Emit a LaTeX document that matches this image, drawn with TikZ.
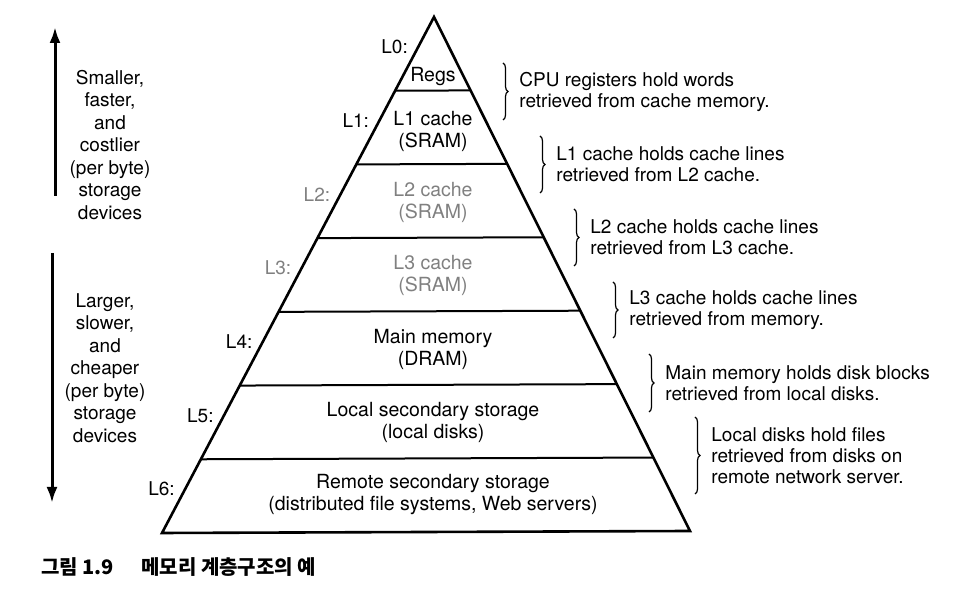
\documentclass[tikz,border=0pt]{standalone}
\usepackage{fontspec}
\setmainfont{TeX Gyre Heros}
\newfontfamily\krfont{Noto Sans CJK KR}
\usetikzlibrary{calc,decorations.pathreplacing,arrows.meta}

\begin{document}
\begin{tikzpicture}[x=0.5pt,y=-0.5pt,font=\fontsize{9.5}{11}\selectfont]
    \tikzstyle{pyramid}=[draw=black,line width=1.3pt,line join=miter]
    \tikzstyle{split}=[draw=black,line width=1pt]
    \tikzstyle{tag}=[anchor=east,inner sep=0pt,xshift=-5pt]
    \tikzstyle{tier}=[align=center,inner sep=0pt,font=\fontsize{9.75}{11}\selectfont]
    \tikzstyle{curly}=[draw=black,line width=0.6pt,decorate,decoration={brace,amplitude=2.5pt}]
    \tikzstyle{note}=[anchor=west,align=left,inner sep=0pt,font=\fontsize{9.5}{10.5}\selectfont]
    \tikzstyle{side}=[align=center,inner sep=0pt,font=\fontsize{9.5}{11.25}\selectfont]
    \tikzstyle{trend}=[line width=1.5pt,-{Latex[length=8pt,width=5.5pt]}]
    \tikzstyle{caption}=[anchor=west,inner sep=0pt,font=\krfont\bfseries\fontsize{10}{12}\selectfont]

    \useasboundingbox (0,0) rectangle (960,597);

    % Draw the pyramid outline
    \coordinate (apex) at (434,17);
    \coordinate (bl) at (162,533);
    \coordinate (br) at (690,531);
    \draw[pyramid] (apex) -- (bl) -- (br) -- cycle;

    % Split the pyramid into its seven levels
    \foreach \k in {1,...,6} {
        \coordinate (l-\k) at ($(apex)!\k/7!(bl)$);
        \coordinate (r-\k) at ($(apex)!\k/7!(br)$);
        \draw[split] (l-\k) -- (r-\k);
    }

    % Level names on the left edge
    \foreach \k/\tc in {0/black,1/black,2/black!50,3/black!50,4/black,5/black,6/black}
        \node[tag,text=\tc] (tag-\k) at ($(apex)!\k/7+0.058!(bl)$) {L\k:};

    % What each level holds
    \foreach \k/\y/\tc/\txt in {0/77/black/Regs,
                                1/131/black/{L1 cache\\(SRAM)},
                                2/202/black!50/{L2 cache\\(SRAM)},
                                3/275/black!50/{L3 cache\\(SRAM)},
                                4/349/black/{Main memory\\(DRAM)},
                                5/422/black/{Local secondary storage\\(local disks)},
                                6/495/black/{Remote secondary storage\\(distributed file systems, Web servers)}}
        \node[tier,text=\tc] (tier-\k) at (433,\y) {\txt};

    % Braces and notes on the right
    \foreach \k/\bx/\ya/\yb/\txt in {
        1/503/63/120/{CPU registers hold words\\retrieved from cache memory.},
        2/540/136/193/{L1 cache holds cache lines\\retrieved from L2 cache.},
        3/574/209/266/{L2 cache holds cache lines\\retrieved from L3 cache.},
        4/613/282/338/{L3 cache holds cache lines\\retrieved from memory.},
        5/649/354/412/{Main memory holds disk blocks\\retrieved from local disks.},
        6/695/417/494/{Local disks hold files\\retrieved from disks on\\remote network server.}}
    {
        \coordinate (top-\k) at (\bx,\ya);
        \coordinate (bot-\k) at (\bx,\yb);
        \draw[curly] (top-\k) -- (bot-\k);
        \node[note] (note-\k) at ($(top-\k)!0.5!(bot-\k)+(16,0)$) {\txt};
    }

    % Trend arrows on the left
    \coordinate (up-a) at (55,196);
    \coordinate (up-b) at (55,27);
    \draw[trend] (up-a) -- (up-b);
    \coordinate (dn-a) at (52,253);
    \coordinate (dn-b) at (52,503);
    \draw[trend] (dn-a) -- (dn-b);

    \node[side] (fast) at (110,145) {Smaller,\\faster,\\and\\costlier\\(per byte)\\storage\\devices};
    \node[side] (slow) at (105,368) {Larger,\\slower,\\and\\cheaper\\(per byte)\\storage\\devices};

    % Caption
    \node[caption] (fig-no) at (41,567) {그림 1.9};
    \node[caption] (fig-title) at (141,567) {메모리 계층구조의 예};
\end{tikzpicture}
\end{document}
